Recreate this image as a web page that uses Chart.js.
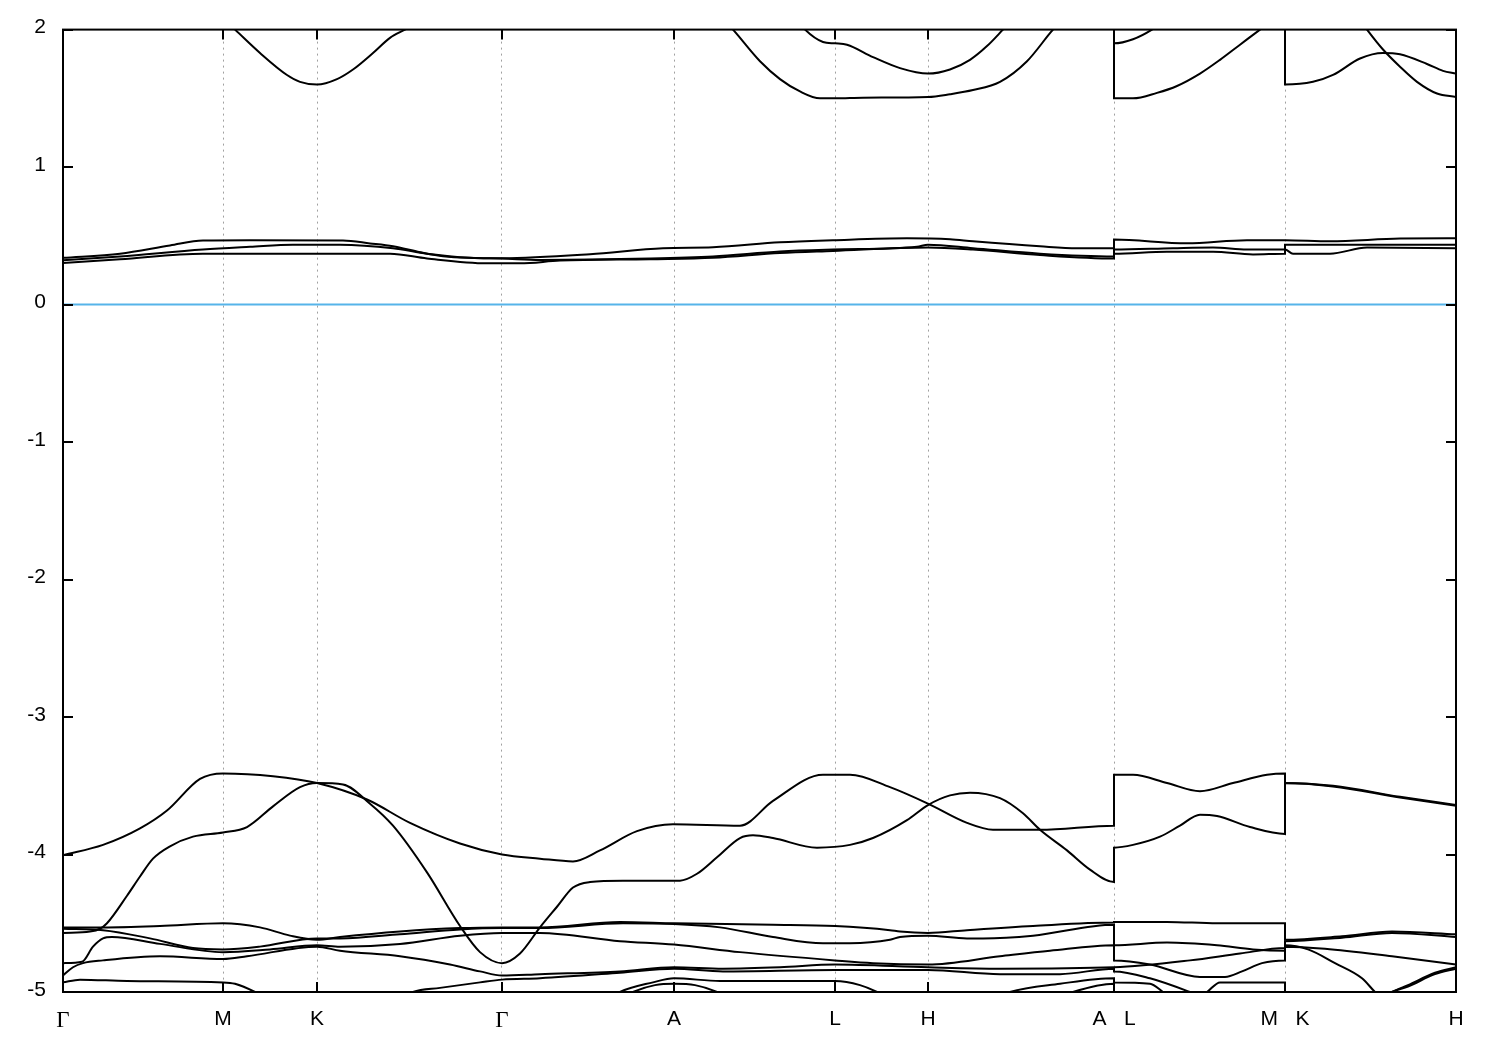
<!DOCTYPE html>
<html>
<head>
<meta charset="utf-8">
<title>Band structure</title>
<script src="https://cdn.jsdelivr.net/npm/chart.js@4.4.1/dist/chart.umd.min.js"></script>
<style>
  html, body { margin: 0; padding: 0; background: #fff; }
  #wrap { width: 1500px; height: 1050px; }
</style>
</head>
<body>
<div id="wrap"><canvas id="bands"></canvas></div>
<script>
// k-path: high symmetry points (path length, arbitrary units)
var kTicks  = [0, 1.60, 2.54, 4.39, 6.11, 7.72, 8.65, 10.51, 12.22, 13.93];
var kLabels = ['Γ', 'M', 'K', 'Γ', 'A', 'L', 'H', 'A   L', 'M   K', 'H'];
var eTicks  = [2, 1, 0, -1, -2, -3, -4, -5];

// Fermi level
var fermi = [[0, 0], [13.93, 0]];

// conduction bands above 1.5 eV
var cb1 = [[1.57,2.10],[1.72,2.00],[1.97,1.83],[2.24,1.67],[2.37,1.62],[2.54,1.60],[2.74,1.64],[2.90,1.71],[3.10,1.83],[3.27,1.94],[3.42,2.00],[3.57,2.06]];
var cb2 = [[6.57,2.10],[6.70,2.00],[6.97,1.77],[7.17,1.64],[7.37,1.55],[7.57,1.50],[7.72,1.50],[8.00,1.505],[8.65,1.51],[8.87,1.53],[9.10,1.56],[9.37,1.62],[9.64,1.77],[9.90,2.00],[10.02,2.09]];
var cb3 = [[7.32,2.09],[7.42,2.00],[7.60,1.91],[7.72,1.90],[7.84,1.89],[8.10,1.80],[8.37,1.72],[8.65,1.68],[8.87,1.71],[9.07,1.78],[9.24,1.88],[9.40,2.00],[9.49,2.07]];
var cb4 = [[10.51,2.30],[10.51,1.90],[10.70,1.93],[10.89,2.00],[11.02,2.07]];
var cb5 = [[10.51,2.30],[10.51,1.50],[10.70,1.50],[10.94,1.54],[11.14,1.59],[11.37,1.68],[11.57,1.78],[11.77,1.89],[11.97,2.00],[12.12,2.08]];
var cb6 = [[12.22,2.30],[12.22,1.60],[12.50,1.62],[12.70,1.67],[12.97,1.79],[13.20,1.83],[13.37,1.82],[13.64,1.75],[13.80,1.70],[13.93,1.68]];
var cb7 = [[12.97,2.07],[13.04,2.00],[13.20,1.855],[13.37,1.73],[13.54,1.62],[13.74,1.535],[13.93,1.51]];

// flat bands just above the Fermi level
var m1 = [[0,0.34],[0.57,0.37],[1.07,0.43],[1.40,0.466],[1.87,0.468],[2.80,0.466],[3.07,0.445],[3.30,0.424],[3.57,0.381],[3.80,0.352],[4.39,0.337],[5.27,0.366],[6.00,0.41],[6.50,0.417],[7.17,0.453],[7.70,0.468],[8.44,0.482],[8.87,0.475],[9.10,0.46],[9.77,0.424],[10.14,0.41],[10.51,0.41],[10.51,0.473],[11.24,0.446],[11.84,0.468],[12.22,0.468],[12.67,0.46],[13.37,0.48],[13.93,0.482]];
var m2 = [[0,0.322],[0.57,0.35],[1.40,0.40],[1.87,0.42],[2.30,0.436],[2.77,0.436],[3.30,0.41],[3.64,0.37],[4.07,0.34],[4.39,0.335],[4.77,0.325],[5.87,0.335],[6.50,0.35],[7.17,0.386],[7.70,0.40],[8.54,0.42],[8.65,0.435],[9.10,0.41],[9.77,0.37],[10.51,0.35],[10.51,0.40],[11.10,0.41],[11.50,0.415],[11.84,0.40],[12.22,0.40],[12.22,0.436],[12.70,0.436],[13.93,0.435]];
var m3 = [[0,0.303],[0.57,0.33],[1.40,0.37],[2.04,0.37],[3.27,0.37],[3.64,0.335],[4.24,0.30],[4.57,0.30],[4.97,0.32],[5.87,0.33],[6.50,0.34],[7.17,0.375],[7.70,0.39],[8.65,0.415],[9.10,0.40],[9.77,0.36],[10.51,0.335],[10.51,0.37],[11.04,0.385],[11.50,0.385],[11.90,0.365],[12.22,0.37],[12.22,0.40],[12.30,0.37],[12.67,0.37],[13.04,0.415],[13.93,0.41]];

// valence bands
var va = [[0,-4.005],[0.40,-3.93],[0.77,-3.81],[1.04,-3.68],[1.37,-3.45],[1.60,-3.41],[2.10,-3.43],[2.54,-3.48],[3.04,-3.60],[3.47,-3.77],[3.97,-3.92],[4.39,-4.00],[4.77,-4.03],[5.10,-4.05],[5.37,-3.97],[5.74,-3.83],[6.10,-3.78],[6.77,-3.79],[7.10,-3.61],[7.60,-3.42],[7.87,-3.42],[8.27,-3.51],[8.65,-3.63],[9.04,-3.77],[9.30,-3.82],[9.77,-3.82],[10.51,-3.79],[10.51,-3.42],[10.70,-3.42],[11.04,-3.48],[11.37,-3.54],[11.70,-3.48],[12.04,-3.42],[12.22,-3.41],[12.22,-3.48],[12.70,-3.50],[13.37,-3.58],[13.93,-3.64]];
var vb = [[0,-4.57],[0.27,-4.56],[0.37,-4.54],[0.44,-4.50],[0.64,-4.30],[0.77,-4.16],[0.90,-4.03],[1.07,-3.94],[1.30,-3.87],[1.60,-3.84],[1.84,-3.80],[2.10,-3.65],[2.37,-3.51],[2.54,-3.48],[2.80,-3.49],[3.07,-3.63],[3.30,-3.79],[3.64,-4.13],[3.97,-4.52],[4.17,-4.71],[4.39,-4.79],[4.57,-4.72],[4.77,-4.53],[4.94,-4.38],[5.10,-4.24],[5.27,-4.20],[5.60,-4.19],[6.17,-4.19],[6.34,-4.14],[6.54,-4.02],[6.77,-3.88],[6.90,-3.86],[7.10,-3.88],[7.54,-3.95],[7.87,-3.93],[8.10,-3.88],[8.44,-3.75],[8.65,-3.64],[8.87,-3.57],[9.07,-3.55],[9.37,-3.59],[9.60,-3.70],[9.77,-3.82],[10.04,-3.97],[10.27,-4.11],[10.51,-4.20],[10.51,-3.95],[10.70,-3.93],[10.97,-3.87],[11.17,-3.79],[11.37,-3.71],[11.54,-3.72],[11.87,-3.80],[12.22,-3.85],[12.22,-3.48],[12.70,-3.505],[13.37,-3.585],[13.93,-3.645]];
var b1 = [[0,-4.53],[0.40,-4.53],[0.97,-4.52],[1.60,-4.50],[1.97,-4.53],[2.27,-4.59],[2.54,-4.62],[2.77,-4.60],[3.37,-4.56],[3.97,-4.535],[4.39,-4.53],[4.77,-4.53],[5.57,-4.49],[6.11,-4.50],[7.10,-4.51],[7.72,-4.52],[8.27,-4.55],[8.37,-4.56],[8.65,-4.57],[9.04,-4.55],[9.70,-4.52],[10.51,-4.495],[10.51,-4.49],[11.04,-4.49],[11.54,-4.50],[12.22,-4.50],[12.22,-4.62],[12.79,-4.595],[13.29,-4.56],[13.93,-4.58]];
var b2 = [[0,-4.54],[0.40,-4.55],[0.87,-4.61],[1.30,-4.68],[1.60,-4.69],[1.97,-4.67],[2.54,-4.61],[2.77,-4.61],[3.37,-4.58],[3.97,-4.545],[4.39,-4.535],[4.77,-4.535],[5.60,-4.50],[6.11,-4.505],[6.57,-4.53],[7.10,-4.60],[7.60,-4.645],[7.87,-4.645],[8.27,-4.62],[8.37,-4.60],[8.65,-4.59],[9.04,-4.61],[9.20,-4.61],[9.70,-4.59],[10.51,-4.51],[10.51,-4.66],[11.04,-4.64],[11.54,-4.66],[11.90,-4.69],[12.22,-4.70],[12.22,-4.63],[12.79,-4.605],[13.29,-4.57],[13.93,-4.60]];
var b3 = [[0,-4.79],[0.19,-4.78],[0.30,-4.67],[0.40,-4.61],[0.49,-4.60],[0.97,-4.65],[1.60,-4.71],[2.07,-4.69],[2.54,-4.66],[2.77,-4.67],[3.37,-4.65],[3.97,-4.59],[4.39,-4.57],[4.77,-4.57],[5.57,-4.63],[6.11,-4.655],[6.77,-4.71],[7.72,-4.77],[8.10,-4.79],[8.65,-4.80],[9.37,-4.74],[9.87,-4.70],[10.51,-4.66],[10.51,-4.77],[10.87,-4.80],[11.37,-4.89],[11.62,-4.89],[11.79,-4.85],[11.99,-4.79],[12.22,-4.77],[12.22,-4.67],[12.62,-4.685],[13.29,-4.74],[13.93,-4.80]];
var b4 = [[0,-4.88],[0.10,-4.82],[0.20,-4.79],[0.40,-4.77],[0.97,-4.74],[1.60,-4.76],[1.84,-4.74],[2.54,-4.67],[2.77,-4.70],[3.37,-4.74],[3.87,-4.80],[4.17,-4.85],[4.39,-4.88],[4.77,-4.87],[5.57,-4.85],[6.11,-4.82],[6.60,-4.83],[7.17,-4.82],[7.72,-4.80],[8.65,-4.82],[9.37,-4.83],[10.51,-4.82],[11.27,-4.77],[11.77,-4.72],[12.22,-4.68],[12.22,-4.66],[12.45,-4.69],[12.72,-4.79],[12.99,-4.90],[13.12,-5.00],[13.27,-5.10]];
var b5 = [[0,-4.93],[0.17,-4.91],[0.64,-4.92],[1.60,-4.93],[1.72,-4.94],[1.92,-5.00],[2.27,-5.15],[3.17,-5.15],[3.50,-5.00],[3.77,-4.97],[4.17,-4.93],[4.39,-4.91],[4.77,-4.90],[5.57,-4.86],[6.11,-4.83],[6.60,-4.85],[7.72,-4.84],[8.65,-4.84],[9.37,-4.87],[9.97,-4.87],[10.51,-4.83],[10.51,-4.85],[10.87,-4.90],[11.27,-5.00],[11.37,-5.03],[11.44,-5.00],[11.57,-4.93],[12.22,-4.93],[12.22,-5.30],[13.07,-5.10],[13.29,-5.00],[13.45,-4.95],[13.72,-4.86],[13.93,-4.82]];
var b6 = [[4.39,-5.30],[5.37,-5.10],[5.57,-5.00],[5.90,-4.93],[6.11,-4.90],[6.57,-4.92],[7.72,-4.92],[7.97,-4.95],[8.14,-5.00],[8.37,-5.10],[9.17,-5.10],[9.47,-5.00],[9.97,-4.94],[10.51,-4.90],[10.51,-4.93],[10.87,-4.94],[11.00,-5.00],[11.37,-5.20],[12.22,-5.20],[12.22,-5.30],[13.07,-5.10],[13.29,-5.00],[13.45,-4.96],[13.72,-4.87],[13.93,-4.83]];
var b7 = [[4.39,-5.30],[5.47,-5.10],[5.70,-5.00],[5.92,-4.95],[6.11,-4.94],[6.32,-4.95],[6.54,-5.00],[6.77,-5.10],[9.77,-5.10],[10.10,-5.00],[10.51,-4.94],[10.51,-5.30],[12.22,-5.30]];

var bands = [cb1, cb2, cb3, cb4, cb5, cb6, cb7, m1, m2, m3, va, vb, b1, b2, b3, b4, b5, b6, b7];

function toXY(b) {
  return b.map(function (p) { return {x: p[0], y: p[1]}; });
}

var datasets = bands.map(function (b) {
  return {
    data: toXY(b),
    borderColor: '#000',
    borderWidth: 2,
    pointRadius: 0,
    fill: false,
    clip: 0,
    cubicInterpolationMode: 'monotone'
  };
});
datasets.push({
  data: toXY(fermi),
  borderColor: '#56b4e9',
  borderWidth: 2,
  pointRadius: 0,
  fill: false,
  clip: 0
});

// frame and inward tick marks, gnuplot style
var frame = {
  id: 'frame',
  afterDatasetsDraw: function (chart) {
    var ctx = chart.ctx, a = chart.chartArea;
    var x = chart.scales.x, y = chart.scales.y;
    ctx.save();
    ctx.strokeStyle = '#000';
    ctx.lineWidth = 2;
    ctx.strokeRect(a.left, a.top, a.right - a.left, a.bottom - a.top);
    ctx.beginPath();
    eTicks.forEach(function (v) {
      var py = Math.round(y.getPixelForValue(v));
      ctx.moveTo(a.left, py); ctx.lineTo(a.left + 10, py);
      ctx.moveTo(a.right, py); ctx.lineTo(a.right - 10, py);
    });
    kTicks.forEach(function (v) {
      var px = Math.round(x.getPixelForValue(v));
      ctx.moveTo(px, a.bottom); ctx.lineTo(px, a.bottom - 10);
      ctx.moveTo(px, a.top); ctx.lineTo(px, a.top + 10);
    });
    ctx.stroke();
    ctx.restore();
  }
};

Chart.defaults.color = '#000';
Chart.defaults.font.family = "'Liberation Sans', Arial, sans-serif";

var ctx = document.getElementById('bands');
var chart = new Chart(ctx, {
  type: 'line',
  data: { datasets: datasets },
  options: {
    responsive: true,
    maintainAspectRatio: false,
    animation: false,
    layout: { padding: { top: 26, right: 44, bottom: 0, left: 0 } },
    plugins: { legend: { display: false }, tooltip: { enabled: false } },
    scales: {
      x: {
        type: 'linear',
        min: 0,
        max: 13.93,
        afterBuildTicks: function (s) {
          s.ticks = kTicks.map(function (v) { return {value: v}; });
        },
        afterFit: function (s) { s.height = 58; },
        grid: {
          drawTicks: false,
          lineWidth: 1,
          color: function (c) {
            return (c.index === 0 || c.index === kTicks.length - 1) ? 'rgba(0,0,0,0)' : '#a0a0a0';
          }
        },
        border: { display: false, dash: [2, 4] },
        ticks: {
          autoSkip: false,
          maxRotation: 0,
          padding: 15,
          callback: function (v, i) { return kLabels[i]; },
          font: function (c) {
            return kLabels[c.index] === 'Γ'
              ? { family: "'Liberation Serif', serif", size: 23 }
              : { family: "'Liberation Sans', Arial, sans-serif", size: 21 };
          }
        }
      },
      y: {
        min: -5,
        max: 2,
        afterBuildTicks: function (s) {
          s.ticks = eTicks.map(function (v) { return {value: v}; });
        },
        afterFit: function (s) { s.width = 63; },
        grid: { display: false, drawTicks: false },
        border: { display: false },
        ticks: {
          padding: 17,
          labelOffset: -2,
          font: { size: 21 },
          callback: function (v) { return String(v); }
        }
      }
    }
  },
  plugins: [frame]
});
</script>
</body>
</html>
